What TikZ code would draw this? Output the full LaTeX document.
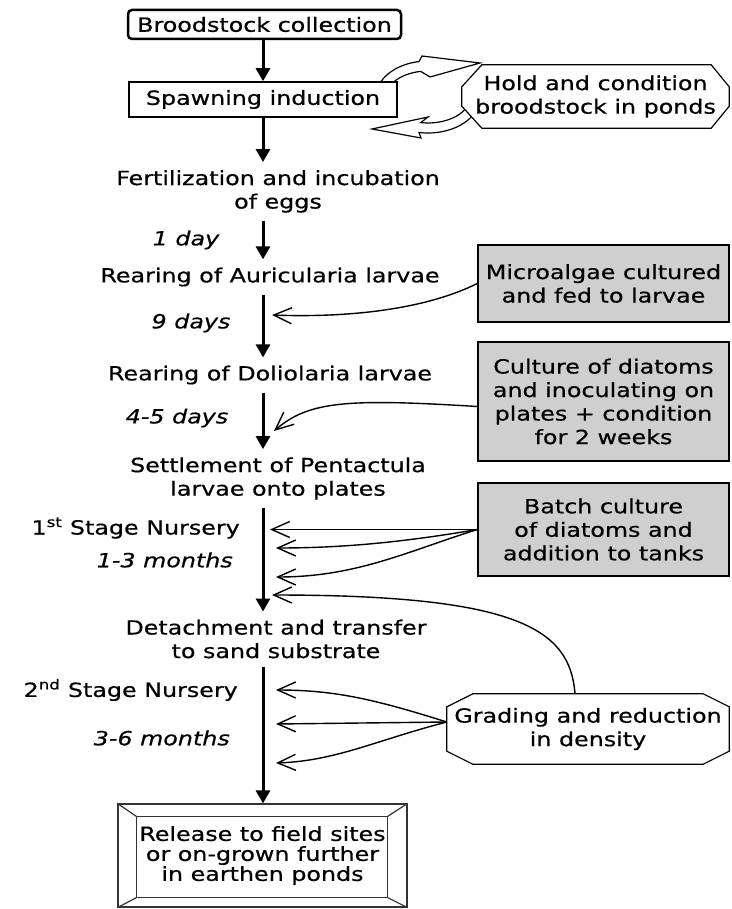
\documentclass[tikz,border=0pt]{standalone}
\usepackage{fontspec}
\setmainfont{DejaVu Sans}[FakeStretch=1.22,FakeBold=0.6,ItalicFont={DejaVu Sans Oblique}]
\usetikzlibrary{arrows.meta,backgrounds}

\tikzset{
  every node/.style={font=\fontsize{19.5pt}{23.5pt}\selectfont},
  mainarr/.style={line width=3pt,-{Triangle[length=13pt,width=14pt]}},
  feed/.style={line width=1.4pt,-{Straight Barb[length=18pt,width=16pt]}},
  stage/.style={align=center,inner sep=8pt},
  lbl/.style={inner sep=0pt,font=\fontsize{19.5pt}{23.5pt}\selectfont\itshape},
  graybox/.style={draw,line width=1.5pt,fill=gray!38,align=center,inner sep=0pt,minimum width=251pt}
}

\begin{document}
\begin{tikzpicture}[x=1pt,y=-1pt]
                \useasboundingbox (0,0) rectangle (731,909);
                \coordinate (X) at (263,0);
                \coordinate (O) at (428,97);
                % boxes of the main line
                \node[draw,rounded corners=4pt,line width=2.5pt,minimum width=273pt,minimum height=29pt,inner sep=0pt] (B) at (264.5,24.5) {Broodstock collection};
                \node[draw,fill=white,line width=1.5pt,minimum width=268pt,minimum height=35pt,inner sep=0pt] (S) at (263,99.5) {Spawning induction};
                \node[stage] (F) at (278,191.4) {Fertilization and incubation\\of eggs};
                \node[stage] (R1) at (270,277) {Rearing of Auricularia larvae};
                \node[stage] (R2) at (270,375) {Rearing of Doliolaria larvae};
                \node[stage] (P) at (278,478.5) {Settlement of Pentactula\\larvae onto plates};
                \node[stage] (D) at (276,639) {Detachment and transfer\\to sand substrate};
                \node[draw=black!80,line width=1.2pt,minimum width=289pt,minimum height=103pt,align=center,inner sep=0pt,font=\fontsize{19.5pt}{20pt}\selectfont] (E) at (262.5,855.5) {Release to field sites\\or on-grown further\\in earthen ponds};
                \coordinate (e1) at ([shift={(19pt,-13pt)}]E.north west);
                \coordinate (e2) at ([shift={(-20pt,-13pt)}]E.north east);
                \coordinate (e3) at ([shift={(-20pt,10pt)}]E.south east);
                \coordinate (e4) at ([shift={(19pt,10pt)}]E.south west);
                \draw[black!80,line width=1.2pt] (e1) -- (e2) -- (e3) -- (e4) -- cycle;
                \draw[black!80,line width=1.2pt] (E.north west) -- (e1);
                \draw[black!80,line width=1.2pt] (E.north east) -- (e2);
                \draw[black!80,line width=1.2pt] (E.south east) -- (e3);
                \draw[black!80,line width=1.2pt] (E.south west) -- (e4);
                % boxes on the right
                \node[minimum width=267pt,minimum height=63pt,align=center,inner sep=0pt] (H) at (595.5,96.5) {Hold and condition\\broodstock in ponds};
                \node[graybox,minimum height=77pt] (M) at (603.5,283.5) {Microalgae cultured\\and fed to larvae};
                \node[graybox,minimum height=119pt] (C) at (603.5,401.5) {Culture of diatoms\\and inoculating on\\plates + condition\\for 2 weeks};
                \node[graybox,minimum height=93pt] (K) at (603.5,529.5) {Batch culture\\of diatoms and\\addition to tanks};
                \node[minimum width=282pt,minimum height=70pt,align=center,inner sep=0pt] (G) at (588,729) {Grading and reduction\\in density};
                \draw[line width=1.2pt] ([yshift=-13pt]G.north west) -- ([xshift=26pt]G.north west) -- ([xshift=-26pt]G.north east) -- ([yshift=-13pt]G.north east) -- ([yshift=13pt]G.south east) -- ([xshift=-26pt]G.south east) -- ([xshift=26pt]G.south west) -- ([yshift=13pt]G.south west) -- cycle;
                % time labels
                \node[lbl] (L1) at (186,240) {1 day};
                \node[lbl] (L2) at (191,323) {9 days};
                \node[lbl] (L3) at (177,418) {4-5 days};
                \node[inner sep=0pt,anchor=east] (N1) at (240,528) {1\textsuperscript{st} Stage Nursery};
                \node[lbl,anchor=east] (L4) at (233,560) {1-3 months};
                \node[inner sep=0pt,anchor=east] (N2) at (238,690) {2\textsuperscript{nd} Stage Nursery};
                \node[lbl,anchor=east] (L5) at (230,738) {3-6 months};
                % the two round arrows
                \begin{scope}[on background layer]
                \filldraw[fill=white,line width=1.2pt] (O) ++(180:52 and 36) arc[start angle=180,end angle=260,x radius=52,y radius=36] -- (422,56) -- (480,63) -- (430,77) -- (420.7,71.4) arc[start angle=260,end angle=180,x radius=42,y radius=26] -- cycle;
                \filldraw[fill=white,line width=1.2pt] (O) ++(0:52 and 36) arc[start angle=0,end angle=100,x radius=52,y radius=36] -- (421,138) -- (372,129) -- (428,117) -- (420.7,122.6) arc[start angle=100,end angle=0,x radius=42,y radius=26] -- cycle;
                \filldraw[fill=white,line width=1.2pt] ([yshift=-22pt]H.north west) -- ([xshift=20pt]H.north west) -- ([xshift=-18pt]H.north east) -- ([yshift=-22pt]H.north east) -- ([yshift=22pt]H.south east) -- ([xshift=-18pt]H.south east) -- ([xshift=20pt]H.south west) -- ([yshift=22pt]H.south west) -- cycle;
                \end{scope}
                % main line
                \draw[mainarr] (B.south -| X) -- (S.north -| X);
                \draw[mainarr] (S.south -| X) -- (F.north -| X);
                \draw[mainarr] (F.south -| X) -- (R1.north -| X);
                \draw[mainarr] (R1.south -| X) -- (R2.north -| X);
                \draw[mainarr] (R2.south -| X) -- (P.north -| X);
                \draw[mainarr] (P.south -| X) -- (D.north -| X);
                \draw[mainarr] (D.south -| X) -- (E.north -| X);
                % inputs
                \coordinate (t1) at (272,315);
                \coordinate (t2) at (274,431);
                \coordinate (t3) at (270,529.5);
                \coordinate (t4) at (276,548);
                \coordinate (t5) at (276,577);
                \coordinate (t6) at (272,595);
                \coordinate (t7) at (276,690);
                \coordinate (t8) at (276,724);
                \coordinate (t9) at (276,763);
                \draw[feed] (M.west) .. controls +(-50,25) and +(80,3) .. (t1);
                \draw[feed] ([yshift=-5pt]C.west) .. controls +(-130,-8) and +(35,-30) .. (t2);
                \draw[feed] (K.west) -- (t3);
                \draw[feed] (K.west) .. controls +(-70,12) and +(70,0) .. (t4);
                \draw[feed] (K.west) .. controls +(-70,22) and +(80,0) .. (t5);
                \draw[feed] ([xshift=-13pt]G.north) .. controls +(-5,-64) and +(248,0) .. (t6);
                \draw[feed] ([yshift=7pt]G.west) .. controls +(-70,-22) and +(60,0) .. (t7);
                \draw[feed] ([yshift=7pt]G.west) -- (t8);
                \draw[feed] ([yshift=7pt]G.west) .. controls +(-70,18) and +(60,-2) .. (t9);
            \end{tikzpicture}
\end{document}
